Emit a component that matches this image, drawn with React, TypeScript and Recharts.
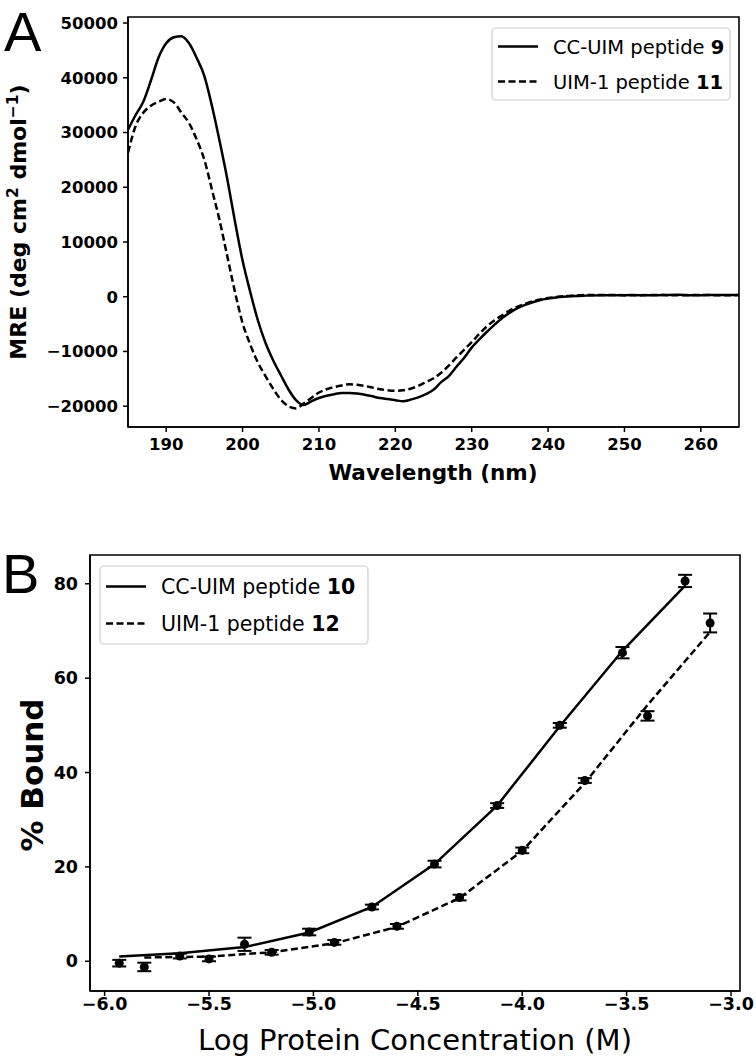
import React from 'react';
import { LineChart, ComposedChart, Line, Scatter, ErrorBar, XAxis, YAxis, ReferenceArea } from 'recharts';

// Panel A: CD spectra
const wavelengths = [
  185, 186, 187, 188, 189, 190, 191, 192, 193, 194, 195, 196, 197, 198, 199, 200,
  201, 202, 203, 204, 205, 206, 207, 208, 209, 210, 211, 212, 213, 214, 215, 216,
  217, 218, 219, 220, 221, 222, 223, 224, 225, 226, 227, 228, 229, 230, 231, 232,
  233, 234, 235, 236, 237, 238, 239, 240, 241, 242, 243, 244, 245,
  247, 249, 251, 253, 255, 257, 259, 261, 263, 265,
];
const cc9Mre = [
  30500, 33200, 35600, 39500, 43700, 46300, 47400, 47600, 46300, 43600, 40300, 34800, 28400, 21500, 13800, 6600,
  900, -4300, -8400, -11600, -14300, -16900, -18900, -19800, -19100, -18500, -18100, -17800, -17600, -17600, -17700, -17900,
  -18200, -18500, -18700, -18900, -19100, -18800, -18400, -17800, -17000, -15600, -14500, -12800, -11200, -9300, -7800, -6400,
  -5100, -3900, -2900, -2100, -1500, -1000, -600, -350, -150, 0, 100, 150, 200,
  250, 250, 300, 250, 300, 350, 250, 300, 300, 300,
];
const uim11Mre = [
  26300, 31200, 33600, 34900, 35600, 36100, 35500, 33600, 31700, 28700, 25000, 19500, 13900, 7400, 900, -4800,
  -8700, -12000, -14500, -16800, -18800, -20000, -20400, -19500, -18500, -17500, -16900, -16500, -16200, -16000, -16100, -16300,
  -16600, -16900, -17100, -17200, -17100, -16800, -16300, -15600, -14900, -13900, -12600, -11100, -9700, -8300, -6800, -5400,
  -4300, -3400, -2500, -1800, -1300, -800, -500, -250, -50, 100, 200, 250, 300,
  300, 300, 250, 300, 300, 250, 300, 300, 250, 300,
];
const nmTicks = [190, 200, 210, 220, 230, 240, 250, 260];
const mreTicks = [-20000, -10000, 0, 10000, 20000, 30000, 40000, 50000];
const nmDomain = [185, 265];
const mreDomain = [-23800, 51100];

// Panel B: binding curves
const ccLogConc = [-5.93, -5.64, -5.33, -5.02, -4.72, -4.42, -4.12, -3.82, -3.52, -3.22];
const ccBound = [-0.4, 1.1, 3.6, 6.2, 11.5, 20.6, 33.0, 50.0, 65.4, 80.6];
const ccErr = [0.7, 0.5, 1.4, 0.7, 0.5, 0.7, 0.5, 0.5, 1.2, 1.3];
const ccFit = [1.0, 1.7, 3.0, 6.1, 11.5, 20.6, 33.0, 49.8, 65.8, 79.6];
const uimLogConc = [-5.81, -5.5, -5.2, -4.9, -4.6, -4.3, -4.0, -3.7, -3.4, -3.1];
const uimBound = [-1.2, 0.5, 1.9, 4.0, 7.4, 13.5, 23.5, 38.3, 52.0, 71.7];
const uimErr = [0.9, 0.5, 0.5, 0.5, 0.5, 0.6, 0.6, 0.5, 1.0, 2.0];
const uimFit = [0.8, 1.0, 1.9, 3.8, 7.3, 13.4, 23.4, 37.8, 54.3, 69.8];
const logTicks = [-6.0, -5.5, -5.0, -4.5, -4.0, -3.5, -3.0];
const boundTicks = [0, 20, 40, 60, 80];
const logDomain = [-6.07, -2.957];
const boundDomain = [-6.3, 86.1];

const legendA = [
  { name: 'CC-UIM peptide ', num: '9', dash: undefined },
  { name: 'UIM-1 peptide ', num: '11', dash: '7 3.5' },
];
const legendB = [
  { name: 'CC-UIM peptide ', num: '10', dash: undefined },
  { name: 'UIM-1 peptide ', num: '12', dash: '7 3.5' },
];

const FONT = 'DejaVu Sans';
const DASH = '7 3.5';
const minus = (s: string) => s.replace('-', '\u2212');

const cdRows = wavelengths.map((nm, i) => ({ nm, cc9: cc9Mre[i], uim11: uim11Mre[i] }));
const ccPoints = ccLogConc.map((x, i) => ({ x, y: ccBound[i], err: ccErr[i] }));
const uimPoints = uimLogConc.map((x, i) => ({ x, y: uimBound[i], err: uimErr[i] }));
const ccFitRows = ccLogConc.map((x, i) => ({ x, y: ccFit[i] }));
const uimFitRows = uimLogConc.map((x, i) => ({ x, y: uimFit[i] }));

const spine = { stroke: '#000', strokeWidth: 1.6 };
const tickLine = { stroke: '#000', strokeWidth: 1.5 };

const Legend = ({ items, x, y, w, h, rowH, fontSize }: any) => (
  <g>
    <rect x={x} y={y} width={w} height={h} rx={4} fill="#fff" fillOpacity={0.8} stroke="#cccccc" strokeWidth={1.2} />
    {items.map((it: any, i: number) => {
      const cy = y + h / 2 + (i - 0.5) * rowH;
      return (
        <g key={i}>
          <line x1={x + 6} x2={x + 46} y1={cy} y2={cy} stroke="#000" strokeWidth={2.5} strokeDasharray={it.dash} />
          <text x={x + 61} y={cy + fontSize * 0.36} fontSize={fontSize} fontFamily={FONT} fill="#000">
            {it.name}
            <tspan fontWeight="bold">{it.num}</tspan>
          </text>
        </g>
      );
    })}
  </g>
);

export default function App() {
  const tickA = { fontFamily: FONT, fontSize: 16.5, fontWeight: 'bold', fill: '#000' };
  const tickB = { fontFamily: FONT, fontSize: 17.5, fontWeight: 'bold', fill: '#000' };
  return (
    <div style={{ position: 'absolute', left: 0, top: 0, width: 756, height: 1058, background: '#fff' }}>
      <div style={{ position: 'absolute', left: 0, top: 0 }}>
        <LineChart width={756} height={480} data={cdRows} margin={{ top: 17, right: 17, bottom: 23, left: 58 }}>
          <XAxis dataKey="nm" type="number" domain={nmDomain} ticks={nmTicks} tick={tickA} tickSize={5} tickMargin={6}
            height={30} axisLine={spine} tickLine={tickLine} allowDataOverflow />
          <YAxis type="number" domain={mreDomain} ticks={mreTicks} tick={tickA} tickSize={5} tickMargin={5}
            width={70} axisLine={spine} tickLine={tickLine} tickFormatter={(v: number) => minus(String(v))} allowDataOverflow />
          <ReferenceArea x1={nmDomain[0]} x2={nmDomain[1]} y1={mreDomain[0]} y2={mreDomain[1]}
            fill="none" fillOpacity={0} stroke="#000" strokeWidth={1.6} ifOverflow="visible" />
          <Line dataKey="cc9" type="monotone" stroke="#000" strokeWidth={2.5} dot={false} isAnimationActive={false} />
          <Line dataKey="uim11" type="monotone" stroke="#000" strokeWidth={2.5} strokeDasharray={DASH} dot={false} isAnimationActive={false} />
        </LineChart>
      </div>
      <div style={{ position: 'absolute', left: 0, top: 520 }}>
        <ComposedChart width={756} height={538} margin={{ top: 35, right: 16, bottom: 37, left: 40 }}>
          <XAxis dataKey="x" type="number" domain={logDomain} ticks={logTicks} tick={tickB} tickSize={5} tickMargin={2}
            height={30} axisLine={spine} tickLine={tickLine} tickFormatter={(v: number) => minus(v.toFixed(1))} allowDataOverflow />
          <YAxis dataKey="y" type="number" domain={boundDomain} ticks={boundTicks} tick={tickB} tickSize={5} tickMargin={7}
            width={50} axisLine={spine} tickLine={tickLine} allowDataOverflow />
          <ReferenceArea x1={logDomain[0]} x2={logDomain[1]} y1={boundDomain[0]} y2={boundDomain[1]}
            fill="none" fillOpacity={0} stroke="#000" strokeWidth={1.6} ifOverflow="visible" />
          <Line data={ccFitRows} dataKey="y" type="linear" stroke="#000" strokeWidth={2.5} dot={false} isAnimationActive={false} />
          <Line data={uimFitRows} dataKey="y" type="linear" stroke="#000" strokeWidth={2.5} strokeDasharray={DASH} dot={false} isAnimationActive={false} />
          <Scatter data={ccPoints} fill="#000" isAnimationActive={false}>
            <ErrorBar dataKey="err" direction="y" width={7} stroke="#000" strokeWidth={2} />
          </Scatter>
          <Scatter data={uimPoints} fill="#000" isAnimationActive={false}>
            <ErrorBar dataKey="err" direction="y" width={7} stroke="#000" strokeWidth={2} />
          </Scatter>
        </ComposedChart>
      </div>
      <svg width={756} height={1058} style={{ position: 'absolute', left: 0, top: 0, pointerEvents: 'none' }}>
        <text x={4} y={51} fontFamily="Liberation Sans" fontSize={56} fill="#000">A</text>
        <text x={2} y={593} fontFamily="Liberation Sans" fontSize={56} fill="#000">B</text>
        <text x={433} y={480} textAnchor="middle" fontFamily={FONT} fontWeight="bold" fontSize={21.5} fill="#000">Wavelength (nm)</text>
        <text x={26} y={222} transform="rotate(-90 26 222)" textAnchor="middle" fontFamily={FONT} fontWeight="bold" fontSize={22} fill="#000">
          MRE (deg cm<tspan dy={-8} fontSize={15.5}>2</tspan><tspan dy={8}>{' dmol'}</tspan><tspan dy={-8} fontSize={15.5}>{'\u22121'}</tspan><tspan dy={8}>)</tspan>
        </text>
        <text x={415} y={1050} textAnchor="middle" fontFamily={FONT} fontSize={29} fill="#000">Log Protein Concentration (M)</text>
        <text x={43} y={775} transform="rotate(-90 43 775)" textAnchor="middle" fontFamily={FONT} fontWeight="bold" fontSize={31} fill="#000">% Bound</text>
        <Legend items={legendA} x={492} y={28} w={238} h={72} rowH={35} fontSize={19.5} />
        <Legend items={legendB} x={100} y={566} w={268} h={78} rowH={37} fontSize={20.5} />
      </svg>
    </div>
  );
}
